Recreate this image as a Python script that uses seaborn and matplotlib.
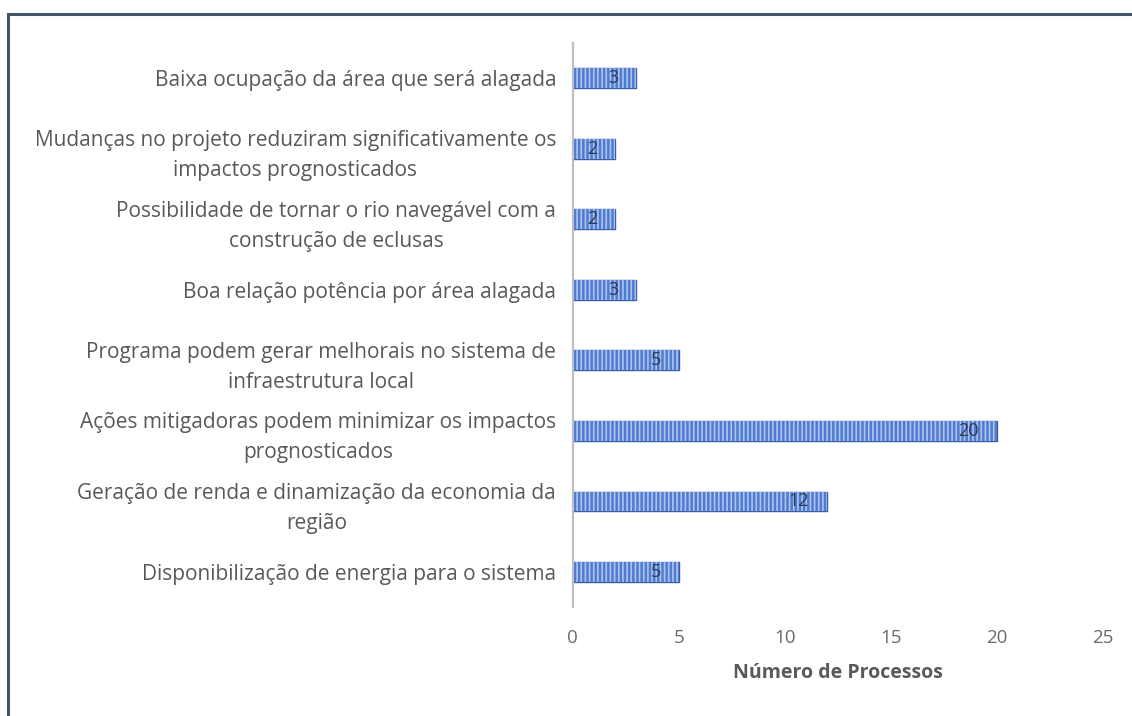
import matplotlib
matplotlib.use("Agg")
import matplotlib.pyplot as plt
import matplotlib.patheffects as pe
from matplotlib.lines import Line2D
import seaborn as sns
import pandas as pd

categories = [
    "Baixa ocupação da área que será alagada",
    "Mudanças no projeto reduziram significativamente os\nimpactos prognosticados",
    "Possibilidade de tornar o rio navegável com a\nconstrução de eclusas",
    "Boa relação potência por área alagada",
    "Programa podem gerar melhorais no sistema de\ninfraestrutura local",
    "Ações mitigadoras podem minimizar os impactos\nprognosticados",
    "Geração de renda e dinamização da economia da\nregião",
    "Disponibilização de energia para o sistema",
]
values = [3, 2, 2, 3, 5, 20, 12, 5]
x_ticks = [0, 5, 10, 15, 20, 25]
x_label = "Número de Processos"

sns.set_theme(style="white")
plt.rcParams["font.family"] = ["Open Sans", "DejaVu Sans"]
plt.rcParams["hatch.linewidth"] = 1.2

df = pd.DataFrame({"categoria": categories, "valor": values})

fig = plt.figure(figsize=(11.32, 7.16), dpi=100)
ax = fig.add_axes([0.506, 0.152, 0.468, 0.788])

sns.barplot(data=df, x="valor", y="categoria", orient="h", ax=ax,
            color="#4f7bd0", width=0.28, saturation=1,
            edgecolor="#aec4ef", linewidth=0, hatch="||||")

for p in ax.patches:
    p.set_path_effects([pe.Stroke(linewidth=1.0, foreground="#3a5ea6"), pe.Normal()])

for i, v in enumerate(values):
    ax.annotate(str(v), xy=(v, i), xytext=(-13, 0), textcoords="offset points",
                ha="right", va="center", fontsize=13, color="#2f3b55")

ax.set_xlim(0, 25)
ax.set_xticks(x_ticks)
ax.set_xticklabels([str(t) for t in x_ticks])
ax.set_ylim(len(categories) - 0.5, -0.5)

ax.tick_params(axis="x", length=0, pad=16, labelsize=13.5, labelcolor="#6b6b6b")
ax.tick_params(axis="y", length=0, pad=12, labelsize=15, labelcolor="#595959")
for lab in ax.get_yticklabels():
    lab.set_multialignment("center")
    lab.set_linespacing(1.55)

ax.set_ylabel("")
ax.set_xlabel(x_label, fontsize=14, fontweight="bold", color="#595959", labelpad=11)

for side in ["top", "right", "bottom"]:
    ax.spines[side].set_visible(False)
ax.spines["left"].set_color("#bfbfbf")
ax.spines["left"].set_linewidth(1.6)

# outer frame around the chart area (left and top edges)
W, H = 1132, 716
fig.add_artist(Line2D([8 / W, 8 / W], [0, 1 - 14 / H], color="#44546a", linewidth=2.2,
                      transform=fig.transFigure, solid_capstyle="projecting"))
fig.add_artist(Line2D([8 / W, 1], [1 - 14 / H, 1 - 14 / H], color="#44546a", linewidth=2.2,
                      transform=fig.transFigure, solid_capstyle="projecting"))

fig.savefig("out.png", dpi=100, facecolor="white")
